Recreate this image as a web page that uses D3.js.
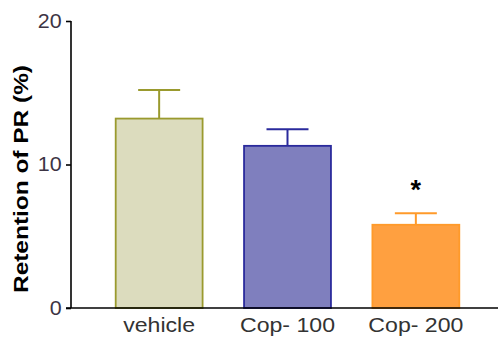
<!DOCTYPE html>
<html>
<head>
<meta charset="utf-8">
<script src="https://cdn.jsdelivr.net/npm/d3@7"></script>
<style>
  html, body { margin: 0; padding: 0; background: #fff; }
  svg { display: block; }
  text { font-family: "Liberation Sans", Arial, sans-serif; }
</style>
</head>
<body>
<svg id="chart" width="498" height="337"></svg>
<script>
// Retention of PR by treatment group (mean ± SEM)
const categories = ["vehicle", "Cop- 100", "Cop- 200"];
const means = [13.2, 11.3, 5.8];
const errors = [2.0, 1.15, 0.8];
const significance = ["", "", "*"];
const yTicks = [0, 10, 20];

const fills = ["#dcdcbe", "#7f7fbe", "#ffa040"];
const strokes = ["#9a9a2e", "#2a2a9c", "#ff9a2a"];

const svg = d3.select("#chart");

const x = d3.scaleBand()
  .domain(categories)
  .range([115.7, 459.3])
  .paddingInner(0.323)
  .paddingOuter(0);

const y = d3.scaleLinear()
  .domain([0, 20])
  .range([308, 21]);

const axisLeftX = 71;
const stretch = 1.1; // glyphs are drawn slightly wide

const groups = svg.append("g").selectAll("g.bar")
  .data(categories.map((c, i) => ({ c, m: means[i], e: errors[i], i, s: significance[i] })))
  .enter().append("g").attr("class", "bar");

const cx = d => x(d.c) + x.bandwidth() / 2;

// error bars (upper half only)
groups.append("line")
  .attr("x1", cx).attr("x2", cx)
  .attr("y1", d => y(d.m))
  .attr("y2", d => y(d.m + d.e))
  .attr("stroke", d => strokes[d.i])
  .attr("stroke-width", 2);
groups.append("line")
  .attr("x1", d => cx(d) - 21)
  .attr("x2", d => cx(d) + 21)
  .attr("y1", d => y(d.m + d.e))
  .attr("y2", d => y(d.m + d.e))
  .attr("stroke", d => strokes[d.i])
  .attr("stroke-width", 2);

groups.append("rect")
  .attr("x", d => x(d.c))
  .attr("width", x.bandwidth())
  .attr("y", d => y(d.m))
  .attr("height", d => y(0) - y(d.m))
  .attr("fill", d => fills[d.i])
  .attr("stroke", d => strokes[d.i])
  .attr("stroke-width", 1.8);

// significance markers
groups.filter(d => d.s)
  .append("text")
  .attr("x", cx)
  .attr("y", d => y(d.m + d.e) - 14)
  .attr("text-anchor", "middle")
  .attr("font-size", 27)
  .attr("font-weight", "bold")
  .attr("fill", "#000")
  .text(d => d.s);

// y axis
const yAxis = d3.axisLeft(y).tickValues(yTicks).tickSize(5).tickPadding(0);
const ya = svg.append("g")
  .attr("transform", `translate(${axisLeftX},0)`)
  .call(yAxis);
ya.select(".domain").attr("stroke", "#000").attr("stroke-width", 1.6).attr("d", `M0,${y(20)}V${y(0)}`);
ya.selectAll(".tick line").attr("stroke", "#000").attr("stroke-width", 1.6);
ya.selectAll(".tick text")
  .attr("x", null)
  .attr("font-size", 19.5)
  .attr("font-family", "Liberation Sans, Arial, sans-serif")
  .attr("fill", "#3c3444")
  .attr("transform", `translate(-9.3,0) scale(${stretch},1)`);

// x axis
const xAxis = d3.axisBottom(x).tickSize(0).tickPadding(9.5);
const xa = svg.append("g")
  .attr("transform", `translate(0,${y(0)})`)
  .call(xAxis);
xa.select(".domain").attr("stroke", "#000").attr("stroke-width", 1.6).attr("d", `M${axisLeftX - 5},0H498`);
xa.selectAll(".tick text")
  .attr("font-size", 21)
  .attr("font-family", "Liberation Sans, Arial, sans-serif")
  .attr("fill", "#333")
  .attr("transform", `scale(${stretch},1)`);

// y axis title
svg.append("text")
  .attr("transform", `translate(27.5,179) rotate(-90)`)
  .attr("text-anchor", "middle")
  .attr("font-size", 21)
  .attr("font-weight", "bold")
  .attr("textLength", 228)
  .attr("lengthAdjust", "spacingAndGlyphs")
  .attr("fill", "#000")
  .text("Retention of PR (%)");
</script>
</body>
</html>
